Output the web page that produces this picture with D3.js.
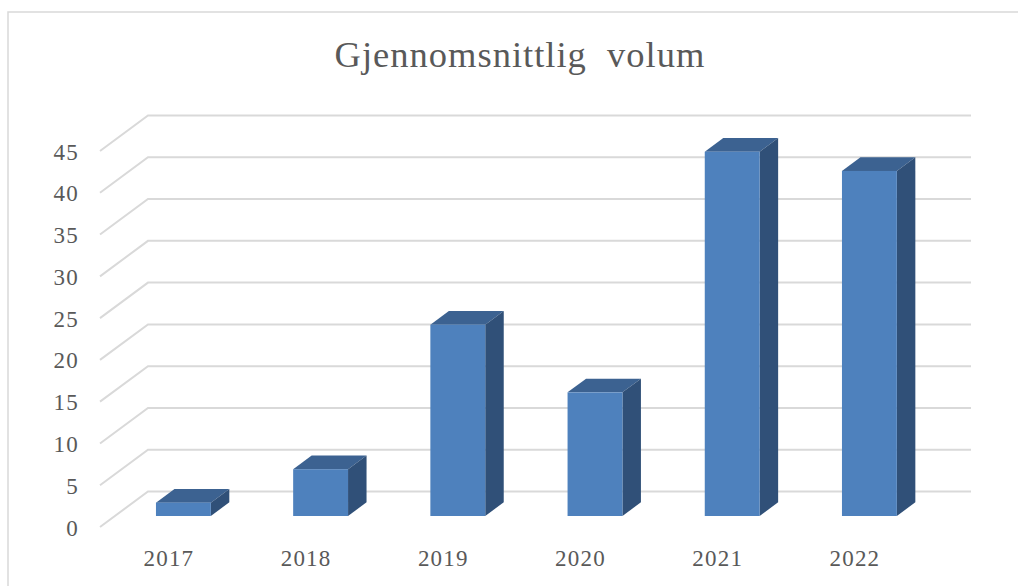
<!DOCTYPE html>
<html>
<head>
<meta charset="utf-8">
<script src="https://cdn.jsdelivr.net/npm/d3@7"></script>
<style>
  body { margin: 0; background: #fff; }
  svg { display: block; }
  text { font-family: "Liberation Serif", serif; fill: #595959; }
</style>
</head>
<body>
<div id="chart"></div>
<script>
// Data
const years = ["2017", "2018", "2019", "2020", "2021", "2022"];
const volumes = [1.6, 5.6, 22.9, 14.8, 43.6, 41.3];
const yTicks = [0, 5, 10, 15, 20, 25, 30, 35, 40, 45];
const titleText = "Gjennomsnittlig  volum";

const width = 1018, height = 586;

// 3D look: how far the back wall is shifted from the front edge
const wallDx = 48, wallDy = -35.5;
const barDx = 18.5, barDy = -13.7;

const svg = d3.select("#chart")
  .append("svg")
    .attr("width", width)
    .attr("height", height);

// Chart frame, it runs off the right and bottom of the picture
svg.append("rect")
    .attr("x", 8)
    .attr("y", 12)
    .attr("width", 1100)
    .attr("height", 700)
    .attr("fill", "#fff")
    .attr("stroke", "#d9d9d9")
    .attr("stroke-width", 1.5);

// Scales
const xScale = d3.scaleBand()
  .domain(years)
  .range([114.8, 938])
  .paddingInner(0.6)
  .paddingOuter(0.3);
const yScale = d3.scaleLinear()
  .domain([0, 45])
  .range([527, 151]);

// Gridlines: a slanted bit on the side wall, then along the back wall
svg.append("g")
  .selectAll("path")
  .data(yTicks)
  .join("path")
    .attr("d", d => `M100,${yScale(d)}L${100 + wallDx},${yScale(d) + wallDy}H971`)
    .attr("fill", "none")
    .attr("stroke", "#d9d9d9")
    .attr("stroke-width", 2);

// y tick labels
svg.append("g")
  .selectAll("text")
  .data(yTicks)
  .join("text")
    .text(d => d)
    .attr("x", 79)
    .attr("y", d => yScale(d) + 8.5)
    .attr("text-anchor", "end")
    .style("font-size", "23px")
    .style("letter-spacing", "1.2px");

// Bars are stood a bit in front of the back wall
const barBase = 516;
const barTop = d => barBase - (yScale(0) - yScale(d));

const bars = svg.append("g")
  .selectAll("g")
  .data(years.map((y, i) => ({ year: y, value: volumes[i] })))
  .join("g");

// Top face
bars.append("path")
    .attr("d", d => {
      const x = xScale(d.year), w = xScale.bandwidth(), y = barTop(d.value);
      return `M${x},${y}l${barDx},${barDy}h${w}l${-barDx},${-barDy}Z`;
    })
    .attr("fill", "#3c6291");

// Side face
bars.append("path")
    .attr("d", d => {
      const x = xScale(d.year) + xScale.bandwidth(), y = barTop(d.value);
      return `M${x},${y}l${barDx},${barDy}V${barBase + barDy}l${-barDx},${-barDy}Z`;
    })
    .attr("fill", "#305078");

// Front face
bars.append("rect")
    .attr("x", d => xScale(d.year))
    .attr("y", d => barTop(d.value))
    .attr("width", xScale.bandwidth())
    .attr("height", d => barBase - barTop(d.value))
    .attr("fill", "#4e81bd");

// x labels sit under the front edge of the floor, left of the bars
svg.append("g")
  .selectAll("text")
  .data(years)
  .join("text")
    .text(d => d)
    .attr("x", d => xScale(d) + xScale.bandwidth() / 2 - 14.5)
    .attr("y", 566)
    .attr("text-anchor", "middle")
    .style("font-size", "23px")
    .style("letter-spacing", "1.2px");

// Title
svg.append("text")
    .text(titleText)
    .attr("x", 520)
    .attr("y", 67)
    .attr("text-anchor", "middle")
    .style("white-space", "pre")
    .style("font-size", "36.5px")
    .style("letter-spacing", "1px");
</script>
</body>
</html>
